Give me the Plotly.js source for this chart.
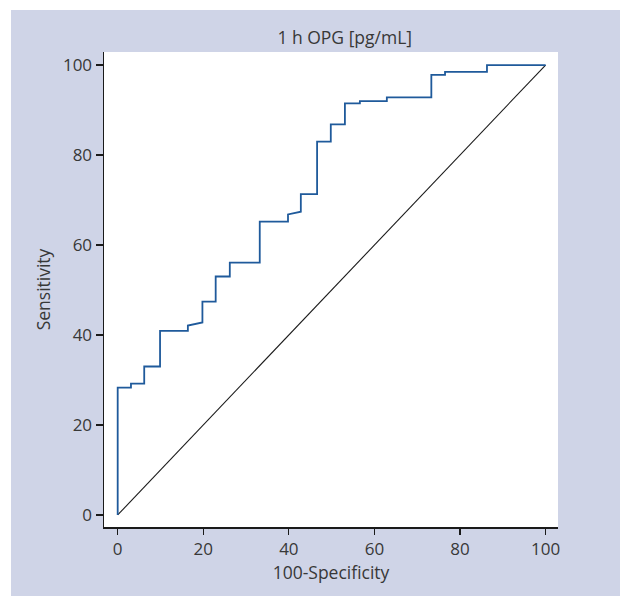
<!DOCTYPE html>
<html>
<head>
<meta charset="utf-8">
<script src="https://cdn.plot.ly/plotly-3.0.1.min.js"></script>
<style>
  html, body { margin: 0; padding: 0; background: #ffffff; width: 620px; height: 596px; overflow: hidden; }
  #chart { position: absolute; left: 11px; top: 10px; width: 609px; height: 586px; }
</style>
</head>
<body>
<div id="chart"></div>
<script>
// ROC curve points: 100-Specificity (FPR, %) and Sensitivity (TPR, %)
const fpr = [0, 0, 3.1, 3.1, 6.2, 6.2, 9.9, 9.9, 16.4, 16.4, 19.8, 19.8, 22.9, 22.9, 26.2, 26.2,
             33.2, 33.2, 39.8, 39.8, 42.8, 42.8, 46.6, 46.6, 49.8, 49.8, 53.1, 53.1, 56.6, 56.6,
             62.9, 62.9, 73.3, 73.3, 76.5, 76.5, 86.3, 86.3, 100];
const sens = [0, 28.3, 28.3, 29.2, 29.2, 33.0, 33.0, 40.9, 40.9, 42.1, 42.8, 47.4, 47.4, 53.0, 53.0, 56.1,
              56.1, 65.2, 65.2, 66.8, 67.4, 71.3, 71.3, 83.0, 83.0, 86.8, 86.8, 91.5, 91.5, 92.0,
              92.0, 92.8, 92.8, 97.8, 97.8, 98.5, 98.5, 100, 100];
// Reference (chance) line
const refX = [0, 100];
const refY = [0, 100];
const xTicks = [0, 20, 40, 60, 80, 100];
const yTicks = [0, 20, 40, 60, 80, 100];

const font = "'Open Sans', 'Noto Sans', sans-serif";
const textColor = '#383838';

const traces = [
  { x: refX, y: refY, mode: 'lines', line: { color: '#1a1a1a', width: 1.1 }, hoverinfo: 'skip', showlegend: false },
  { x: fpr, y: sens, mode: 'lines', line: { color: '#1f5a9b', width: 1.8, shape: 'linear' }, showlegend: false }
];

const layout = {
  width: 609, height: 586,
  margin: { l: 93, r: 62, t: 42, b: 69 },
  paper_bgcolor: '#cfd4e7',
  plot_bgcolor: '#ffffff',
  showlegend: false,
  font: { family: font, size: 17, color: textColor },
  title: {
    text: '1 h OPG [pg/mL]',
    font: { family: font, size: 17.5, color: textColor },
    xref: 'container', yref: 'container',
    x: 0.548, y: 0.952, xanchor: 'center', yanchor: 'middle'
  },
  xaxis: {
    range: [-3.2, 102.9],
    tickvals: xTicks, ticktext: xTicks.map(String),
    showgrid: false, zeroline: false,
    showline: true, linecolor: '#1a1a1a', linewidth: 1.5,
    ticks: 'outside', ticklen: 6, tickwidth: 1.2, tickcolor: '#1a1a1a',
    tickfont: { family: font, size: 17, color: textColor },
    title: { text: '100-Specificity', font: { family: font, size: 17.5, color: textColor }, standoff: 8 }
  },
  yaxis: {
    range: [-2.67, 102.9],
    tickvals: yTicks, ticktext: yTicks.map(String),
    showgrid: false, zeroline: false,
    showline: true, linecolor: '#1a1a1a', linewidth: 1.5,
    ticks: 'outside', ticklen: 7, tickwidth: 1.2, tickcolor: '#1a1a1a',
    tickfont: { family: font, size: 17, color: textColor },
    title: { text: 'Sensitivity', font: { family: font, size: 17.5, color: textColor }, standoff: 8 }
  }
};

Plotly.newPlot('chart', traces, layout, { staticPlot: true, displayModeBar: false });
</script>
</body>
</html>
